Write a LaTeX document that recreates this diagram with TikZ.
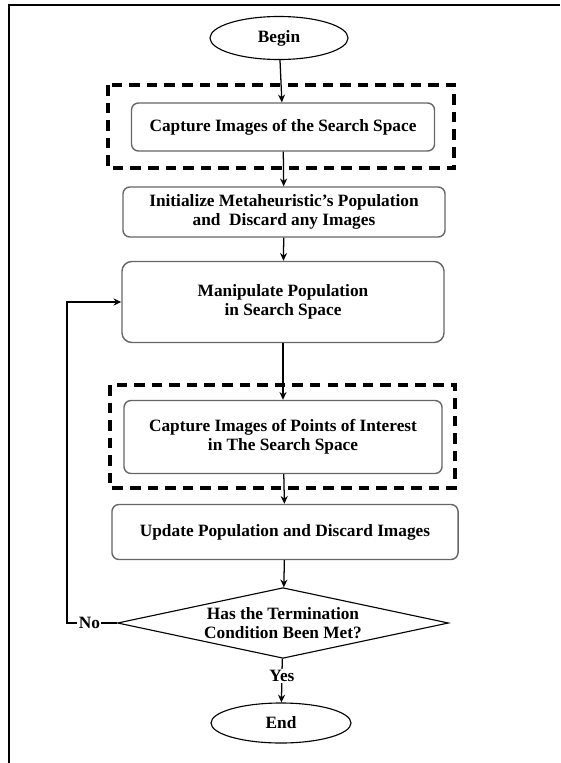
\documentclass[tikz,border=0pt]{standalone}
\usepackage{fontspec}
\setmainfont{Liberation Serif}
\usepackage{tikz}
\usetikzlibrary{arrows.meta,positioning,shapes.geometric}
\tikzset{>={Stealth[length=5.5pt,width=5pt]},
	procbox/.style={% rounded process boxes
		draw=black!60,
		line width=1pt,
		rectangle,
		rounded corners=5pt,
		align=center,
		font=\bfseries\fontsize{12.3}{13.8}\selectfont
	},
	termnode/.style={
		draw,
		shape=ellipse,
		line width=0.8pt,
		inner sep=0pt,
		font=\bfseries\fontsize{12.3}{13.8}\selectfont
	},
	decision/.style={
		draw,
		shape=diamond,
		shape aspect=4.04,
		line width=0.8pt,
		inner sep=0pt,
		align=center,
		font=\bfseries\fontsize{12.3}{13.8}\selectfont
	},
	dashframe/.style={
		draw,
		line width=2.7pt,
		dash pattern=on 7.5pt off 5pt
	},
	flow/.style={->, line width=0.9pt},
	flowlabel/.style={fill=white, inner sep=1pt, font=\bfseries\fontsize{12.3}{13.8}\selectfont}
}
\begin{document}
\begin{tikzpicture}[x=0.025cm, y=-0.025cm]
                        \useasboundingbox (0,0) rectangle (560,763);
                        % page frame (cut off at right and bottom)
                        \draw [line width=1.5pt] (9,763) -- (9,5) -- (560,5);
                        % dashed frames round the capture steps
                        \draw [dashframe] (108,85) rectangle (454,168);
                        \draw [dashframe] (110,385) rectangle (455,488);
                        \node [termnode, minimum width=3.45cm, minimum height=1.075cm] (begin) at (279,38) {Begin};
                        \node [procbox, minimum width=7.575cm, minimum height=1.2cm] (capspace) at (283,127) {Capture Images of the Search Space};
                        \node [procbox, minimum width=8.05cm, minimum height=1.25cm] (init) at (284,212) {Initialize Metaheuristic's Population\\and\ \ Discard any Images};
                        \node [procbox, minimum width=8.05cm, minimum height=2.025cm, rounded corners=7pt] (manip) at (283,302) {Manipulate Population\\in Search Space};
                        \node [procbox, minimum width=7.95cm, minimum height=1.825cm] (capinterest) at (283,437) {Capture Images of Points of Interest\\in The Search Space};
                        \node [procbox, minimum width=8.65cm, minimum height=1.375cm] (update) at (285,532) {Update Population and Discard Images};
                        \node [decision, minimum width=8.275cm] (cond) at (283,623) {Has the Termination\\Condition Been Met?};
                        \node [termnode, minimum width=3.5cm, minimum height=1.0cm] (end) at (281,723) {End};
                        \coordinate (back) at (67,623);
                        \coordinate (backup) at (67,302);
                        \draw [flow] (begin) edge (capspace);
                        \draw [flow] (capspace) edge (init);
                        \draw [flow] (init) edge (manip);
                        \draw [flow] (manip) edge (capinterest);
                        \draw [flow] (capinterest) edge (update);
                        \draw [flow] (update) edge (cond);
                        \draw [flow] (cond) -- node[flowlabel, pos=0.4] {Yes} (end);
                        \draw [flow] (cond.west) -- node[flowlabel, pos=0.55] {No} (back) -- (backup) -- (manip.west);
                \end{tikzpicture}
\end{document}
